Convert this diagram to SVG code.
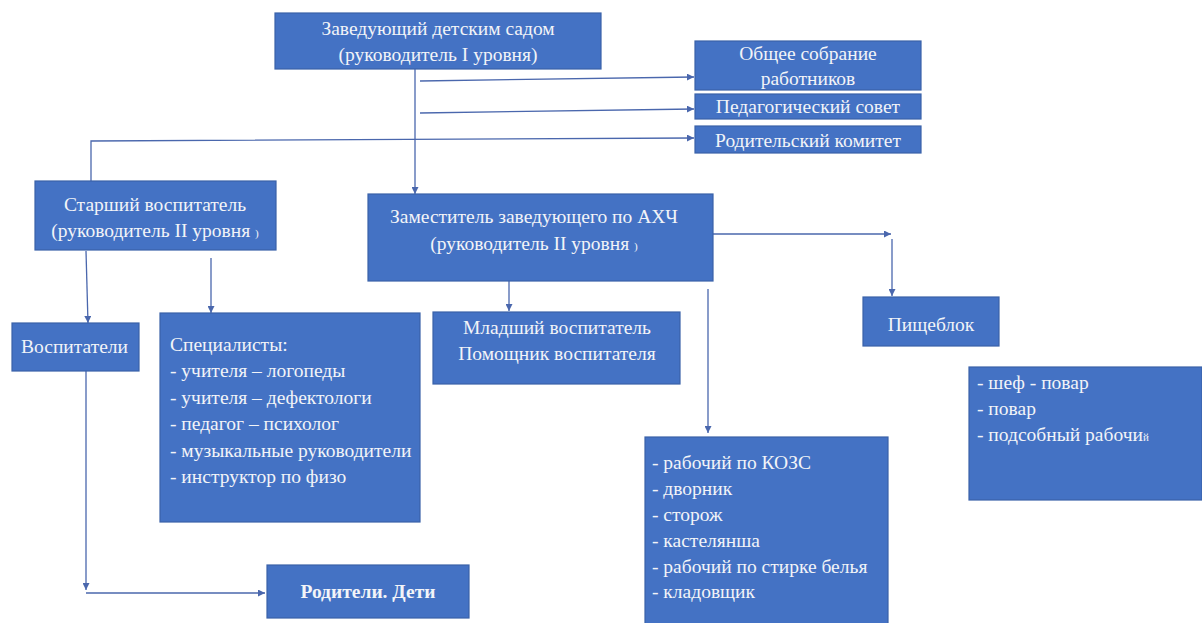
<svg xmlns="http://www.w3.org/2000/svg" width="1202" height="623" viewBox="0 0 1202 623" font-family="'Liberation Serif', 'Times New Roman', 'DejaVu Serif', serif">
<defs>
<style>
.box{fill:#4472C4;stroke:#3a62a8;stroke-width:1.2}
.t{fill:#f2f4f8;font-size:19.5px}
.c{text-anchor:middle}
.con{stroke:#4a67ad;stroke-width:1.3;fill:none}
</style>
<marker id="ah" viewBox="0 0 10 10" refX="10" refY="5" markerWidth="7" markerHeight="7" orient="auto" markerUnits="userSpaceOnUse">
<path d="M0,0 L10,5 L0,10 z" fill="#4a67ad"/>
</marker>
</defs>
<rect width="1202" height="623" fill="#ffffff"/>
<g id="connectors">
<line class="con" x1="415" y1="69" x2="415" y2="194" marker-end="url(#ah)"/>
<line class="con" x1="420" y1="81" x2="694" y2="77" marker-end="url(#ah)"/>
<line class="con" x1="420" y1="113" x2="694" y2="109" marker-end="url(#ah)"/>
<polyline class="con" points="91,182 91,141 694,138" marker-end="url(#ah)"/>
<line class="con" x1="713" y1="234" x2="891" y2="234" marker-end="url(#ah)"/>
<line class="con" x1="892" y1="239" x2="892" y2="296" marker-end="url(#ah)"/>
<line class="con" x1="708" y1="289" x2="708" y2="433" marker-end="url(#ah)"/>
<line class="con" x1="509" y1="281" x2="509" y2="311" marker-end="url(#ah)"/>
<line class="con" x1="86" y1="251" x2="88" y2="323" marker-end="url(#ah)"/>
<line class="con" x1="211" y1="258" x2="211" y2="313" marker-end="url(#ah)"/>
<line class="con" x1="86" y1="371" x2="86" y2="590" marker-end="url(#ah)"/>
<line class="con" x1="86" y1="593" x2="265" y2="593" marker-end="url(#ah)"/>
</g>
<g id="head">
<rect class="box" x="275" y="13" width="326" height="56"/>
<text class="t c" x="438" y="35">Заведующий детским садом</text>
<text class="t c" x="438" y="61">(руководитель I уровня)</text>
</g>
<g id="obshchee">
<rect class="box" x="695" y="41" width="226" height="49"/>
<text class="t c" x="808" y="60">Общее собрание</text>
<text class="t c" x="808" y="85">работников</text>
</g>
<g id="pedsovet">
<rect class="box" x="695" y="94" width="226" height="25"/>
<text class="t c" x="808" y="113">Педагогический совет</text>
</g>
<g id="roditkom">
<rect class="box" x="695" y="126" width="226" height="27"/>
<text class="t c" x="808" y="147">Родительский комитет</text>
</g>
<g id="starshiy">
<rect class="box" x="35" y="181" width="241" height="69"/>
<text class="t c" x="155" y="211">Старший воспитатель</text>
<text class="t c" x="155" y="237">(руководитель II уровня <tspan font-size="11">)</tspan></text>
</g>
<g id="zam">
<rect class="box" x="368" y="194" width="345" height="87"/>
<text class="t c" x="534" y="223">Заместитель заведующего по АХЧ</text>
<text class="t c" x="534" y="250">(руководитель II уровня <tspan font-size="11">)</tspan></text>
</g>
<g id="vospitateli">
<rect class="box" x="12" y="323" width="127" height="48"/>
<text class="t" x="21" y="353">Воспитатели</text>
</g>
<g id="specialisty">
<rect class="box" x="160" y="313" width="260" height="209"/>
<text class="t" x="170" y="351">Специалисты:</text>
<text class="t" x="170" y="377">- учителя – логопеды</text>
<text class="t" x="170" y="404">- учителя – дефектологи</text>
<text class="t" x="170" y="430">- педагог – психолог</text>
<text class="t" x="170" y="457">- музыкальные руководители</text>
<text class="t" x="170" y="483">- инструктор по физо</text>
</g>
<g id="mladshiy">
<rect class="box" x="433" y="312" width="247" height="72"/>
<text class="t c" x="557" y="334">Младший воспитатель</text>
<text class="t c" x="557" y="360">Помощник воспитателя</text>
</g>
<g id="pishcheblok">
<rect class="box" x="863" y="297" width="136" height="49"/>
<text class="t c" x="931" y="331">Пищеблок</text>
</g>
<g id="pishcheblok-staff">
<rect class="box" x="969" y="367" width="233" height="133"/>
<text class="t" x="977" y="389">- шеф - повар</text>
<text class="t" x="977" y="415">- повар</text>
<text class="t" x="977" y="441">- подсобный рабочи<tspan font-size="11">й</tspan></text>
</g>
<g id="ahch-staff">
<rect class="box" x="645" y="437" width="243" height="190"/>
<text class="t" x="652" y="469">- рабочий по КОЗС</text>
<text class="t" x="652" y="495">- дворник</text>
<text class="t" x="652" y="521">- сторож</text>
<text class="t" x="652" y="547">- кастелянша</text>
<text class="t" x="652" y="573">- рабочий по стирке белья</text>
<text class="t" x="652" y="598">- кладовщик</text>
</g>
<g id="roditeli">
<rect class="box" x="267" y="565" width="202" height="53"/>
<text class="t c" x="368" y="598" font-weight="bold">Родители. Дети</text>
</g>
</svg>
